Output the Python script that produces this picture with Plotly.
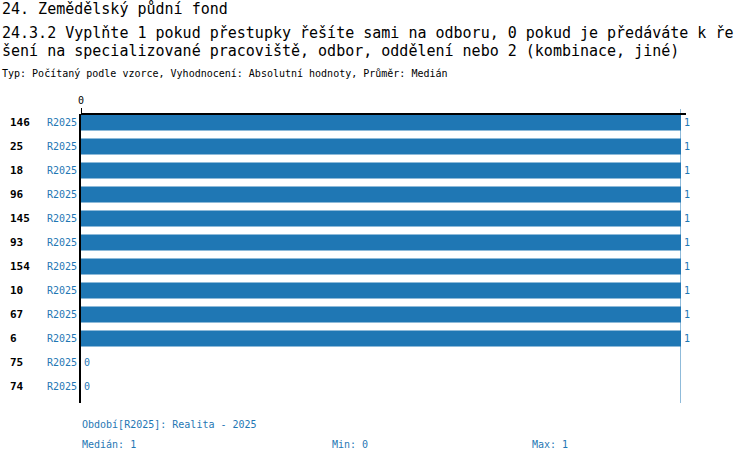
import plotly.graph_objects as go

# data
ids = ['146', '25', '18', '96', '145', '93', '154', '10', '67', '6', '75', '74']
values = [1, 1, 1, 1, 1, 1, 1, 1, 1, 1, 0, 0]
period = 'R2025'
median_val = 1
min_val = 0
max_val = 1

title1 = '24. Zemědělský půdní fond'
title2 = '24.3.2 Vyplňte 1 pokud přestupky řešíte sami na odboru, 0 pokud je předáváte k ře'
title3 = 'šení na specializované pracoviště, odbor, oddělení nebo 2 (kombinace, jiné)'
subtitle = 'Typ: Počítaný podle vzorce, Vyhodnocení: Absolutní hodnoty, Průměr: Medián'
legend_txt = 'Období[R2025]: Realita - 2025'

blue = '#1f77b4'
mono = 'DejaVu Sans Mono'

fig = go.Figure()
fig.add_trace(go.Bar(
    x=values, y=ids, orientation='h',
    marker=dict(color=blue, line=dict(width=0)),
    width=0.67,
    text=[str(v) for v in values], textposition='outside',
    textfont=dict(family=mono, size=10, color=blue),
    cliponaxis=False,
))

# plot area in pixels: x 81..681, y 114..403
def py(p):
    return (403 - p) / 289.0

def px(p):
    return (p - 81) / 600.0

ann = []
ann.append(dict(text=title1, x=px(0), y=py(9), xanchor='left', yanchor='middle',
                font=dict(family=mono, size=15, color='black')))
ann.append(dict(text=title2, x=px(0), y=py(33), xanchor='left', yanchor='middle',
                font=dict(family=mono, size=15, color='black')))
ann.append(dict(text=title3, x=px(0), y=py(51), xanchor='left', yanchor='middle',
                font=dict(family=mono, size=15, color='black')))
ann.append(dict(text=subtitle, x=px(0), y=py(73), xanchor='left', yanchor='middle',
                font=dict(family=mono, size=10, color='black')))
ann.append(dict(text=legend_txt, x=px(80), y=py(424), xanchor='left', yanchor='middle',
                font=dict(family=mono, size=10, color=blue)))
ann.append(dict(text='Medián: %d' % median_val, x=px(80), y=py(444), xanchor='left', yanchor='middle',
                font=dict(family=mono, size=10, color=blue)))
ann.append(dict(text='Min: %d' % min_val, x=px(330), y=py(444), xanchor='left', yanchor='middle',
                font=dict(family=mono, size=10, color=blue)))
ann.append(dict(text='Max: %d' % max_val, x=px(530), y=py(444), xanchor='left', yanchor='middle',
                font=dict(family=mono, size=10, color=blue)))
for a in ann:
    a.update(xref='paper', yref='paper', showarrow=False)

# row id labels on the left
for k, i in enumerate(ids):
    ann.append(dict(text='<b>%s</b>' % i, x=px(8), y=k, xref='paper', yref='y',
                    xanchor='left', yanchor='middle', showarrow=False,
                    font=dict(family=mono, size=11, color='black')))

fig.update_layout(
    annotations=ann,
    width=750, height=462,
    margin=dict(l=81, r=69, t=114, b=59),
    plot_bgcolor='white', paper_bgcolor='white',
    showlegend=False,
    shapes=[
        # median line
        dict(type='line', xref='x', yref='paper', x0=median_val, x1=median_val,
             y0=0, y1=py(109), line=dict(color=blue, width=1)),
        # top axis line
        dict(type='line', xref='paper', yref='paper', x0=0, x1=px(686),
             y0=1, y1=1, line=dict(color='black', width=2)),
    ],
)

fig.update_xaxes(range=[0, 1], side='top', showgrid=False, zeroline=False,
                 showline=False, tickvals=[0], ticktext=['0'], ticks='outside',
                 ticklen=5, tickcolor='black', tickwidth=1,
                 tickfont=dict(family=mono, size=10, color='black'))
fig.update_yaxes(type='category', categoryorder='array', categoryarray=ids,
                 range=[11.69, -0.354], showgrid=False, zeroline=False,
                 showline=True, linecolor='black', linewidth=2,
                 tickvals=ids, ticktext=[period] * len(ids), ticks='',
                 tickfont=dict(family=mono, size=10, color=blue))

# drop the browser's default body margin so the figure sits at the page corner
fig.write_html('out.html', config={'displayModeBar': False},
               post_script="document.body.style.margin='0px';")
